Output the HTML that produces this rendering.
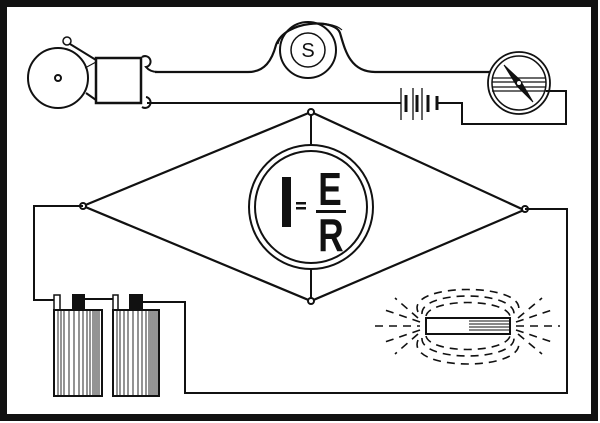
<!DOCTYPE html>
<html><head><style>html,body{margin:0;padding:0;background:#fff}svg{display:block}</style></head>
<body>
<svg width="600" height="423" viewBox="0 0 600 423" xmlns="http://www.w3.org/2000/svg" fill="none" stroke="#111" stroke-width="2">
<rect x="3.5" y="3.5" width="591" height="414" stroke-width="7"/>
<!-- bell -->
<circle cx="58" cy="78" r="30"/>
<circle cx="58" cy="78" r="3"/>
<circle cx="67" cy="41" r="4" stroke-width="1.5"/>
<line x1="70" y1="44" x2="96" y2="60"/>
<line x1="86" y1="93" x2="96" y2="100"/>
<line x1="85" y1="68" x2="96" y2="62" stroke-width="1"/>
<rect x="96" y="58" width="45" height="45" stroke-width="2.5"/>
<path d="M142 57 A5.5 5.5 0 1 1 146 67 Q150 72 158 72" />
<path d="M142 107 A5.5 5.5 0 1 0 146 97" />
<!-- top wire and S coil -->
<path d="M155 72 L248 72 C265 72 272 60 276 45 C285 20 335 18 340 33 C345 50 350 72 375 72 L490 72" stroke-width="2.2"/>
<circle cx="308" cy="50" r="28"/>
<circle cx="308" cy="50" r="17" stroke-width="1.5"/>
<path d="M278 44 C283 22 330 18 342 30" stroke-width="1.2"/>
<text x="308" y="57" font-family="Liberation Sans, sans-serif" font-size="20" fill="#111" stroke="none" text-anchor="middle">S</text>
<!-- bottom wire, battery -->
<path d="M147 103 L401 103" />
<g stroke-width="1.3"><line x1="401" y1="88" x2="401" y2="120"/><line x1="413" y1="88" x2="413" y2="120"/><line x1="422" y1="88" x2="422" y2="120"/></g>
<g stroke-width="3"><line x1="406" y1="95" x2="406" y2="112"/><line x1="417" y1="95" x2="417" y2="112"/><line x1="428" y1="95" x2="428" y2="112"/><line x1="437" y1="96" x2="437" y2="110"/></g>
<path d="M437 103 L462 103 L462 124 L566 124 L566 91 L546 91"/>
<!-- compass -->
<circle cx="519" cy="83" r="31" stroke-width="1.8"/>
<circle cx="519" cy="83" r="27" stroke-width="1.5"/>
<g stroke-width="1.2"><line x1="492" y1="78" x2="546" y2="78"/><line x1="492" y1="82" x2="546" y2="82"/><line x1="492" y1="87" x2="546" y2="87"/><line x1="492" y1="91" x2="546" y2="91"/></g>
<polygon points="504,65 520,80 533,102 517,86" fill="#111" stroke-width="1"/>
<circle cx="519" cy="83" r="2.5" fill="#fff" stroke-width="1"/>
<!-- diamond -->
<path d="M311 112 L83 206 L311 301 L524 210 Z" stroke-width="2.2"/>
<line x1="311" y1="112" x2="311" y2="301"/>
<circle cx="311" cy="112" r="3" fill="#fff"/><circle cx="311" cy="301" r="3" fill="#fff"/>
<circle cx="83" cy="206" r="3" fill="#fff"/><circle cx="525" cy="209" r="3" fill="#fff"/>
<circle cx="311" cy="207" r="62" fill="#fff" stroke-width="2"/>
<circle cx="311" cy="207" r="56" stroke-width="2"/>
<g fill="#111" stroke="none">
<rect x="282" y="177" width="9" height="50"/>
<rect x="296" y="202" width="10" height="2.5"/><rect x="296" y="207" width="10" height="2.5"/>
<rect x="316" y="210" width="30" height="3"/>
<text transform="translate(330,205) scale(0.8,1.05)" font-family="Liberation Sans, sans-serif" font-weight="bold" font-size="44" text-anchor="middle">E</text>
<text transform="translate(331,251) scale(0.8,1.05)" font-family="Liberation Sans, sans-serif" font-weight="bold" font-size="44" text-anchor="middle">R</text>
</g>
<!-- left circuit -->
<path d="M83 206 L34 206 L34 300 L54 300"/>
<path d="M84 299 L113 299"/>
<path d="M142 302 L185 302 L185 393 L567 393 L567 209 L525 209"/>
<g stroke-width="1.5">
<rect x="54" y="295" width="6" height="15"/><rect x="113" y="295" width="5" height="15"/>
</g>
<rect x="73" y="295" width="11" height="15" fill="#111"/><rect x="130" y="295" width="12" height="15" fill="#111"/>
<rect x="54" y="310" width="48" height="86" stroke-width="2"/>
<rect x="113" y="310" width="46" height="86" stroke-width="2"/>
<g stroke-width="0.9">
<path d="M58 310V396M61 310V396M64 310V396M69 310V396M74 310V396M79 310V396M83 310V396M87 310V396M90 310V396M93 310V396M95 310V396M97 310V396M99 310V396"/>
<path d="M117 310V396M120 310V396M124 310V396M128 310V396M133 310V396M138 310V396M142 310V396M146 310V396M149 310V396M151 310V396M153 310V396M155 310V396M157 310V396"/>
</g>
<!-- magnet -->
<rect x="426" y="318" width="84" height="16" stroke-width="2"/>
<g stroke-width="1"><path d="M469 321H510M469 324H510M469 327H510M469 330H510"/></g>
<g stroke-width="1.6" stroke-dasharray="8 6">
<path d="M375 326H420M516 326H560"/>
<path d="M426 316 C430 298 505 298 510 316"/>
<path d="M422 314 C420 290 515 290 514 314"/>
<path d="M418 312 C405 282 530 282 518 312"/>
<path d="M426 336 C430 354 505 354 510 336"/>
<path d="M422 338 C420 362 515 362 514 338"/>
<path d="M418 340 C405 372 530 372 518 340"/>
<path d="M420 322 L385 310M420 330 L385 342M516 322 L552 310M516 330 L552 342"/>
<path d="M418 318 L395 298M418 334 L395 354M518 318 L542 298M518 334 L542 354"/>
</g>
</svg>
</body></html>
